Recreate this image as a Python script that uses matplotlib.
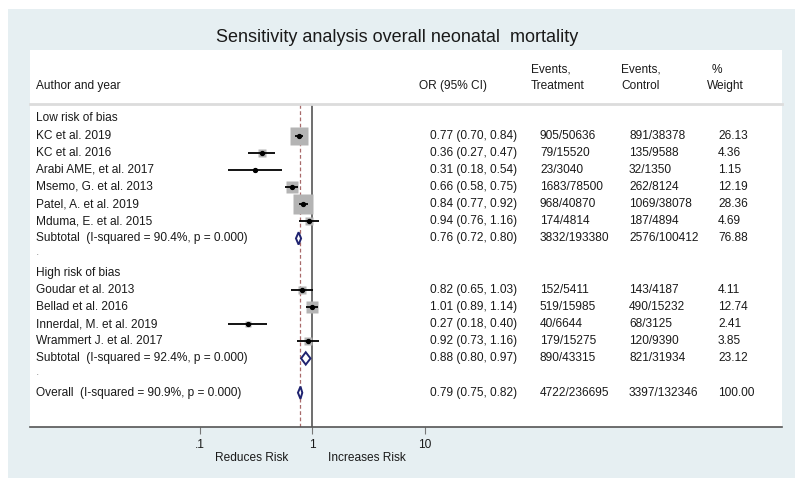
import numpy as np
import matplotlib
matplotlib.use("Agg")
import matplotlib.pyplot as plt
import matplotlib.transforms as mtransforms
from matplotlib.patches import Rectangle, Polygon

plt.rcParams['font.family'] = ['Liberation Sans', 'DejaVu Sans']

# Low risk of bias studies
low_names = ["KC et al. 2019", "KC et al. 2016", "Arabi AME, et al. 2017",
             "Msemo, G. et al. 2013", "Patel, A. et al. 2019", "Mduma, E. et al. 2015"]
low_or = [0.77, 0.36, 0.31, 0.66, 0.84, 0.94]
low_lo = [0.70, 0.27, 0.18, 0.58, 0.77, 0.76]
low_hi = [0.84, 0.47, 0.54, 0.75, 0.92, 1.16]
low_treat = ["905/50636", "79/15520", "23/3040", "1683/78500", "968/40870", "174/4814"]
low_ctrl = ["891/38378", "135/9588", "32/1350", "262/8124", "1069/38078", "187/4894"]
low_weight = [26.13, 4.36, 1.15, 12.19, 28.36, 4.69]

# High risk of bias studies
high_names = ["Goudar et al. 2013", "Bellad et al. 2016", "Innerdal, M. et al. 2019",
              "Wrammert J. et al. 2017"]
high_or = [0.82, 1.01, 0.27, 0.92]
high_lo = [0.65, 0.89, 0.18, 0.73]
high_hi = [1.03, 1.14, 0.40, 1.16]
high_treat = ["152/5411", "519/15985", "40/6644", "179/15275"]
high_ctrl = ["143/4187", "490/15232", "68/3125", "120/9390"]
high_weight = [4.11, 12.74, 2.41, 3.85]

# Pooled: low subtotal, high subtotal, overall
pooled_names = ["Subtotal  (I-squared = 90.4%, p = 0.000)",
                "Subtotal  (I-squared = 92.4%, p = 0.000)",
                "Overall  (I-squared = 90.9%, p = 0.000)"]
pooled_or = [0.76, 0.88, 0.79]
pooled_lo = [0.72, 0.80, 0.75]
pooled_hi = [0.80, 0.97, 0.82]
pooled_treat = ["3832/193380", "890/43315", "4722/236695"]
pooled_ctrl = ["2576/100412", "821/31934", "3397/132346"]
pooled_weight = [76.88, 23.12, 100.00]

tick_vals = [0.1, 1, 10]
tick_labels = [".1", "1", "10"]

W, H = 795, 478
fig = plt.figure(figsize=(W / 100, H / 100), dpi=100)
fig.patch.set_facecolor("white")

# light blue frame + white panel
fig.add_artist(Rectangle((8 / W, 0), 1 - 8 / W, 1 - 9 / H, transform=fig.transFigure,
                         facecolor="#e6eff2", edgecolor="none", zorder=-10))
fig.add_artist(Rectangle((30 / W, 1 - 427 / H), 752 / W, (427 - 50) / H,
                         transform=fig.transFigure, facecolor="white",
                         edgecolor="none", zorder=-9))

ax = fig.add_axes([30 / W, 1 - 427 / H, 752 / W, (427 - 104) / H])
ax.set_xscale("log")
ax.set_xlim(10 ** ((30 - 312) / 112.5), 10 ** ((782 - 312) / 112.5))
ax.set_ylim(18.0, -0.84)

# build the row layout
rows = []  # (kind, idx)
rows.append(("head", "Low risk of bias"))
for i in range(len(low_names)):
    rows.append(("low", i))
rows.append(("pool", 0))
rows.append(("dot", "."))
rows.append(("head", "High risk of bias"))
for i in range(len(high_names)):
    rows.append(("high", i))
rows.append(("pool", 1))
rows.append(("dot", "."))
rows.append(("pool", 2))

tr = mtransforms.blended_transform_factory(ax.transAxes, ax.transData)
col = lambda px: (px - 30) / 752
fs = 8.6
txt = "#1a1a1a"

for r, (kind, item) in enumerate(rows):
    if kind == "head":
        ax.text(col(36), r, item, transform=tr, va="center", fontsize=fs, color=txt)
        continue
    if kind == "dot":
        ax.text(col(36), r - 0.2, item, transform=tr, va="center", fontsize=fs, color="#999999")
        continue
    if kind == "pool":
        name, est, lo, hi = pooled_names[item], pooled_or[item], pooled_lo[item], pooled_hi[item]
        tre, ctr, w = pooled_treat[item], pooled_ctrl[item], pooled_weight[item]
        dia = Polygon([(lo, r), (est, r - 0.36), (hi, r), (est, r + 0.36)], closed=True,
                      facecolor="white", edgecolor="#1f2370", lw=1.4, zorder=5)
        ax.add_patch(dia)
    else:
        if kind == "low":
            name, est, lo, hi = low_names[item], low_or[item], low_lo[item], low_hi[item]
            tre, ctr, w = low_treat[item], low_ctrl[item], low_weight[item]
        else:
            name, est, lo, hi = high_names[item], high_or[item], high_lo[item], high_hi[item]
            tre, ctr, w = high_treat[item], high_ctrl[item], high_weight[item]
        ax.plot([est], [r], marker="s", ms=2.6 * np.sqrt(w), color="#b4b4b4",
                mec="none", zorder=3)
        ax.plot([lo, hi], [r, r], color="black", lw=1.3, zorder=4, solid_capstyle="butt")
        ax.plot([est], [r], marker="o", ms=2.8, color="black", zorder=5)
    ax.text(col(36), r, name, transform=tr, va="center", fontsize=fs, color=txt)
    ax.text(col(430), r, "%.2f (%.2f, %.2f)" % (est, lo, hi), transform=tr,
            va="center", fontsize=fs, color=txt)
    ax.text(col(540), r, tre, transform=tr, va="center", fontsize=fs, color=txt)
    ax.text(col(629), r, ctr, transform=tr, va="center", fontsize=fs, color=txt)
    ax.text(col(718), r, "%.2f" % w, transform=tr, va="center", fontsize=fs, color=txt)

# reference lines
ax.axvline(1, color="#555555", lw=1.2, zorder=2)
ax.axvline(pooled_or[2], color="#a86a6a", lw=0.9, ls=(0, (3, 2)), zorder=2)

# axes styling
for s in ["left", "right"]:
    ax.spines[s].set_visible(False)
ax.spines["top"].set_color("#dcdcdc")
ax.spines["top"].set_linewidth(2)
ax.spines["bottom"].set_color("#555555")
ax.spines["bottom"].set_linewidth(1.2)
ax.set_yticks([])
ax.set_xticks(tick_vals)
ax.set_xticklabels(tick_labels)
ax.minorticks_off()
ax.tick_params(axis="x", direction="out", length=5, width=0.8, color="#777777",
               labelsize=fs, labelcolor=txt, pad=4)

btr = mtransforms.blended_transform_factory(ax.transData, ax.transAxes)
ax.text(0.29, -0.095, "Reduces Risk", transform=btr,
        ha="center", va="center", fontsize=fs, color=txt)
ax.text(3.1, -0.095, "Increases Risk", transform=btr,
        ha="center", va="center", fontsize=fs, color=txt)

# headers
fig.text(0.5, 1 - 38 / H, "Sensitivity analysis overall neonatal  mortality",
         ha="center", va="center", fontsize=13, color=txt)
fig.text(36 / W, 1 - 86 / H, "Author and year", va="center", fontsize=fs, color=txt)
fig.text(419 / W, 1 - 86 / H, "OR (95% CI)", va="center", fontsize=fs, color=txt)
fig.text(531 / W, 1 - 70 / H, "Events,", va="center", fontsize=fs, color=txt)
fig.text(531 / W, 1 - 86 / H, "Treatment", va="center", fontsize=fs, color=txt)
fig.text(621 / W, 1 - 70 / H, "Events,", va="center", fontsize=fs, color=txt)
fig.text(621 / W, 1 - 86 / H, "Control", va="center", fontsize=fs, color=txt)
fig.text(712 / W, 1 - 70 / H, "%", va="center", fontsize=fs, color=txt)
fig.text(707 / W, 1 - 86 / H, "Weight", va="center", fontsize=fs, color=txt)

fig.savefig("out.png", dpi=100)
